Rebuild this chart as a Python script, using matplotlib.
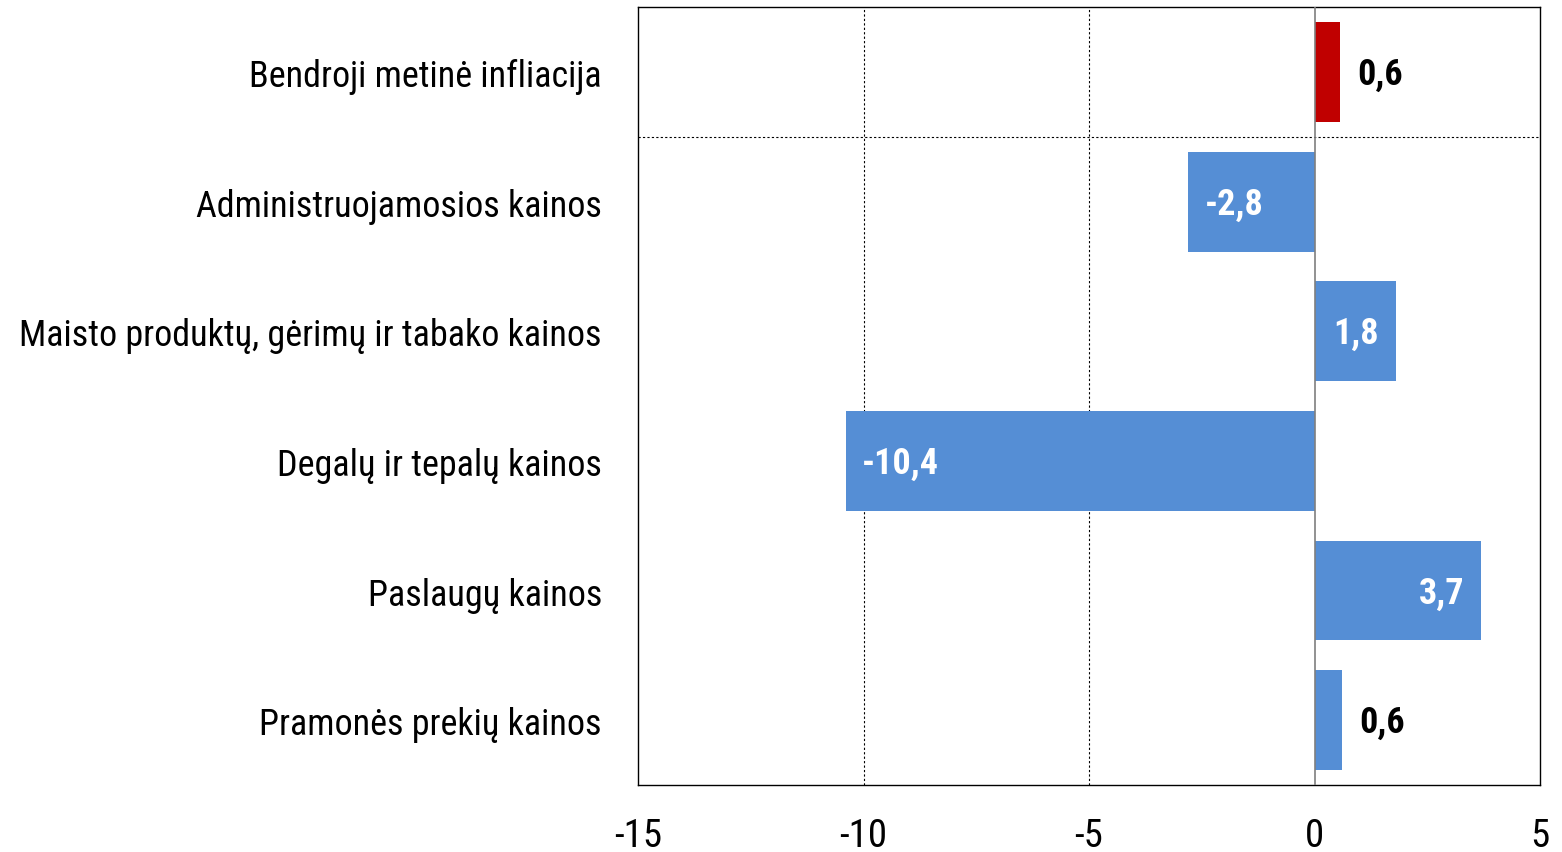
import matplotlib.pyplot as plt
import numpy as np

plt.rcParams['font.family'] = ['Roboto Condensed', 'Liberation Sans Narrow', 'DejaVu Sans']

# Data (annual change, %)
categories = ['Bendroji metinė infliacija',
              'Administruojamosios kainos',
              'Maisto produktų, gėrimų ir tabako kainos',
              'Degalų ir tepalų kainos',
              'Paslaugų kainos',
              'Pramonės prekių kainos']
values = [0.57, -2.8, 1.8, -10.4, 3.7, 0.62]
colors = ['#C00000', '#558ED5', '#558ED5', '#558ED5', '#558ED5', '#558ED5']
# which labels sit inside the bar (white) vs outside (black)
label_inside = [False, True, True, True, True, False]

fig = plt.figure(figsize=(15.62, 8.53), dpi=100)
ax = fig.add_axes([0.4085, 0.0785, 0.5774, 0.912])

y = np.arange(len(categories))
ax.barh(y, values, height=0.77, color=colors, zorder=3)

ax.set_xlim(-15, 5)
ax.set_ylim(len(categories) - 0.5, -0.5)
ax.set_xticks([-15, -10, -5, 0, 5])
ax.set_xticklabels(['-15', '-10', '-5', '0', '5'], fontsize=28)
ax.set_yticks(y)
ax.set_yticklabels(categories, fontsize=26)
ax.tick_params(axis='both', length=0)
ax.tick_params(axis='x', pad=23)
ax.tick_params(axis='y', pad=26)

# grid lines
for gx in [-10, -5]:
    ax.axvline(gx, color='black', linestyle=(0, (2, 2)), linewidth=0.8, zorder=1)
ax.axhline(0.5, color='black', linestyle=(0, (2, 2)), linewidth=0.8, zorder=1)
ax.axvline(0, color='#7f7f7f', linewidth=1.2, zorder=4)

for s in ax.spines.values():
    s.set_color('black')
    s.set_linewidth(1.0)

# value labels
for yi, v, inside in zip(y, values, label_inside):
    txt = f'{v:.1f}'.replace('.', ',')
    if inside:
        off = 12 if v < 0 else -12
        ha = 'left' if v < 0 else 'right'
        ax.annotate(txt, (v, yi), xytext=(off, -1.5), textcoords='offset points',
                    ha=ha, va='center', color='white', fontsize=26,
                    fontweight='bold', zorder=5)
    else:
        ax.annotate(txt, (v, yi), xytext=(12, -1.5), textcoords='offset points',
                    ha='left', va='center', color='black', fontsize=26,
                    fontweight='bold', zorder=5)

fig.savefig('out.png', dpi=100)
